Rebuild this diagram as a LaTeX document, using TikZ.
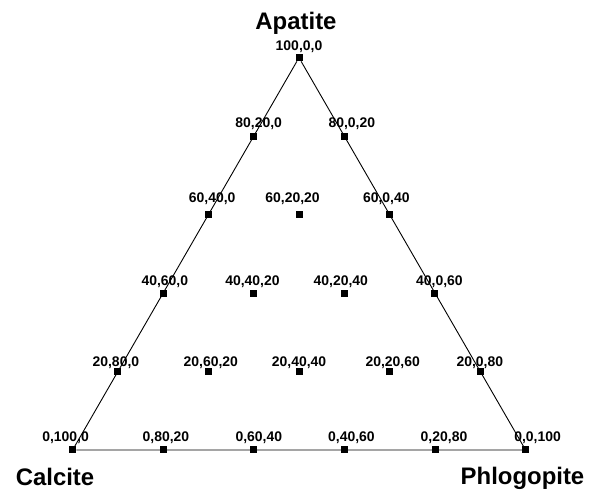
\documentclass[tikz,border=0pt]{standalone}
\usepackage{fontspec}
\setmainfont{Liberation Sans}
\usepackage{tikz}

\begin{document}
\begin{tikzpicture}[x=1bp,y=1bp,
 pt/.style={fill=black,inner sep=0pt,minimum size=7bp},
 lab/.style={anchor=base,font=\bfseries\fontsize{14}{14}\selectfont},
 ttl/.style={anchor=base,font=\bfseries\fontsize{24}{24}\selectfont}]
 \useasboundingbox (0,0) rectangle (597,491);
 % corners of the triangle
 \coordinate (A) at (299,433.3);
 \coordinate (C) at (72.6,41);
 \coordinate (P) at (525.6,41);

 % the markers
 \foreach \a/\c/\p in {100/0/0,80/20/0,80/0/20,60/40/0,60/20/20,60/0/40,
   40/60/0,40/40/20,40/20/40,40/0/60,20/80/0,20/60/20,20/40/40,20/20/60,20/0/80,
   0/100/0,0/80/20,0/60/40,0/40/60,0/20/80,0/0/100} {
 \node[pt] (p\a-\c-\p) at (barycentric cs:A=\a/100,C=\c/100,P=\p/100) {};
 }
 % the sides
 \draw[line width=0.9bp] (p100-0-0) -- (p0-100-0) -- (p0-0-100) -- (p100-0-0);

 % the numbers
 \foreach \a/\c/\p/\dx/\dy in {100/0/0/0/7.3,80/20/0/5/8.5,80/0/20/7.5/8.5,
   60/40/0/3.7/11.7,60/20/20/-6.5/11.7,60/0/40/-3.3/11.7,
   40/60/0/1.7/7.7,40/40/20/-1.3/7.7,40/20/40/-3.5/7.7,40/0/60/4.5/7.7,
   20/80/0/-2/5,20/60/20/2.3/5,20/40/40/0/5,20/20/60/3/5,20/0/80/-0.5/5,
   0/100/0/-7/8.5,0/80/20/2.7/8.5,0/60/40/5/8.5,0/40/60/7/8.5,0/20/80/9/8.5,0/0/100/12/8.5} {
 \node[lab] (l\a-\c-\p) at ([xshift=\dx bp,yshift=\dy bp]p\a-\c-\p) {\a,\c,\p};
 }

 % end members
 \node[ttl] (apatite) at (296,461) {Apatite};
 \node[ttl] (calcite) at (55,5) {Calcite};
 \node[ttl] (phlogopite) at (522.5,6) {Phlogopite};
\end{tikzpicture}
\end{document}
